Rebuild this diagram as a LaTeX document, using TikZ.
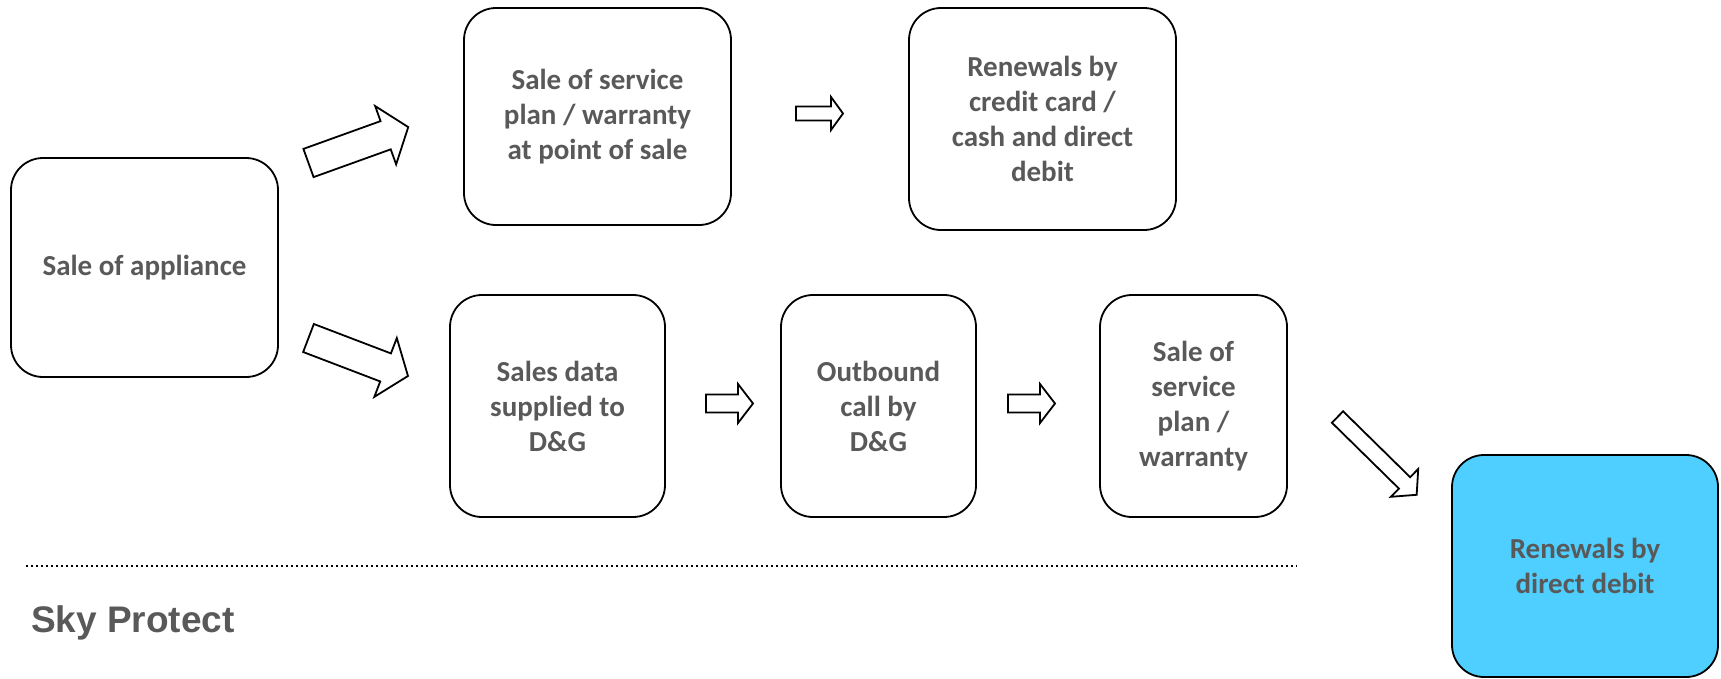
\documentclass[tikz,border=0pt]{standalone}
\usepackage{fontspec}
\setmainfont{Carlito}
\newfontfamily\arialfont{Liberation Sans}
\definecolor{txtgray}{HTML}{595959}
\definecolor{skyblue}{HTML}{4FCFFF}
\tikzset{
  box/.style={draw=black, line width=1.8pt, rounded corners=32pt, align=center,
    font=\fontsize{29}{35}\selectfont\bfseries, text=txtgray, inner sep=0pt},
  blockarrow/.style={draw=black, line width=1.8pt, fill=white, line join=miter}
}
\newcommand{\blockarr}[8]{% name, x, y, angle, L, shaft, head, headlen
  \begin{scope}[shift={(#2,#3)}, rotate=#4]
    \draw[blockarrow] (0,-#6/2) -- (#5-#8,-#6/2) -- (#5-#8,-#7/2) -- (#5,0)
      -- (#5-#8,#7/2) -- (#5-#8,#6/2) -- (0,#6/2) -- cycle;
    \coordinate (#1) at (#5/2,0);
  \end{scope}}
\begin{document}
\begin{tikzpicture}[x=1pt,y=-1pt]
\useasboundingbox (0,0) rectangle (1721,678);
% boxes
\node[box, minimum width=267pt, minimum height=219pt] (appl) at (144.5,267.5) {Sale of appliance};
\node[box, minimum width=267pt, minimum height=217pt] (pos) at (597.5,116.5) {Sale of service\\plan / warranty\\at point of sale};
\node[box, minimum width=267pt, minimum height=222pt] (renew1) at (1042.5,119) {Renewals by\\credit card /\\cash and direct\\debit};
\node[box, minimum width=215pt, minimum height=222pt] (data) at (557.5,406) {Sales data\\supplied to\\D\&G};
\node[box, minimum width=195pt, minimum height=222pt] (call) at (878.5,406) {Outbound\\call by\\D\&G};
\node[box, minimum width=187pt, minimum height=222pt] (sale) at (1193.5,406) {Sale of\\service\\plan /\\warranty};
\node[box, fill=skyblue, minimum width=266pt, minimum height=222pt] (renew2) at (1585,566) {Renewals by\\direct debit};
% block arrows
\blockarr{a1}{308.5}{163}{19.8}{106}{30}{62}{24}
\blockarr{a2}{308.5}{338}{-20.9}{106.5}{30}{63}{24}
\blockarr{a3}{1337.5}{417}{-44.5}{111}{16}{39}{17}
\blockarr{a4}{796}{113.5}{0}{47}{14}{33}{12}
\blockarr{a5}{706}{403.5}{0}{47}{18}{39}{15}
\blockarr{a6}{1008}{403.5}{0}{47}{18}{39}{15}
% separator
\coordinate (sepL) at (26,566);
\coordinate (sepR) at (1297,566);
\draw[line width=2pt, dash pattern=on 2pt off 3pt] (sepL) -- (sepR);
\node[anchor=base west, inner sep=0pt, text=txtgray, font=\arialfont\fontsize{37}{43}\selectfont\bfseries] (sky) at (31,632) {Sky Protect};
\end{tikzpicture}
\end{document}
